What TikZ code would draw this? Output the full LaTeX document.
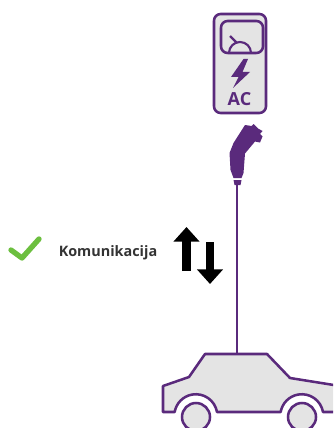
\documentclass[tikz,border=0pt]{standalone}
\usepackage{fontspec}
\setmainfont{Open Sans}
\usetikzlibrary{arrows.meta}
\definecolor{plum}{HTML}{5A2A7C}
\definecolor{panel}{HTML}{E4E4E4}
\definecolor{tick}{HTML}{6CBF3F}
\tikzset{
  outline/.style={draw=plum,fill=panel,line width=1.9pt,line join=round},
  bigarrow/.style={-{Triangle[width=19pt,length=11pt]},line width=6.6pt,black}
}
\begin{document}
\begin{tikzpicture}[x=0.75pt,y=-0.75pt]
  \useasboundingbox (0,0) rectangle (333,428);
  \clip (0,0) rectangle (333,428);

  % Charger
  \draw [outline,rounded corners=5pt] (214,14) rectangle (266,113);
  \draw [outline,rounded corners=5pt] (221,21) rectangle (263,53);
  \draw [draw=plum,line width=1.6pt] (229,53) arc (180:360:11);
  \draw [draw=plum,line width=1.6pt] (230,36) -- (237,43);
  \fill [plum] (243.5,59) -- (231,77) -- (238.5,77) -- (233,88) -- (250,72) -- (242.5,72) -- (248,59) -- cycle;
  \node [text=plum,font=\bfseries\fontsize{13.5pt}{14pt}\selectfont] (aclabel) at (239.5,99) {AC};

  % Plug
  \fill [plum] (245,125) -- (251.5,126) -- (253.5,124) -- (258,128.5) -- (262.5,131) -- (260,134) -- (262.5,136.5) -- (260,142.5) -- (255,141.5) -- (245,153.5) -- (243.5,173) -- (241.5,178) -- (233.5,178) -- (230.5,170) -- (229.5,153) -- (233.5,143) -- cycle;
  \fill [plum] (233.5,180) -- (241.5,180) -- (240.5,185) -- (234.5,185) -- cycle;
  \coordinate (plugtip) at (237,185);

  % Car
  \draw [outline] (205,354) -- (267,354) -- (290,378) -- (340,386) -- (340,412) -- (323,412)
      arc (-10:-170:21.5) -- (217,412) arc (-10:-170:21.5) -- (163,412) -- (163,386) -- (189,377) -- cycle;
  \draw [outline] (196,417) circle (14);
  \draw [outline] (302,417) circle (14);
  \coordinate (carroof) at (237,354);

  % Cable
  \draw [draw=plum,line width=1.9pt] (plugtip) -- (carroof);

  % Communication
  \draw [tick,line width=4pt,line cap=round,line join=round] (11,250) -- (22,258) -- (39,239);
  \node [text=black!80,font=\bfseries\fontsize{10.8pt}{11pt}\selectfont] (commlabel) at (108,253) {Komunikacija};
  \coordinate (upstart) at (186.5,271);
  \coordinate (upend) at (186.5,227);
  \coordinate (downstart) at (210,242);
  \coordinate (downend) at (210,284);
  \draw [bigarrow] (upstart) -- (upend);
  \draw [bigarrow] (downstart) -- (downend);
\end{tikzpicture}
\end{document}
